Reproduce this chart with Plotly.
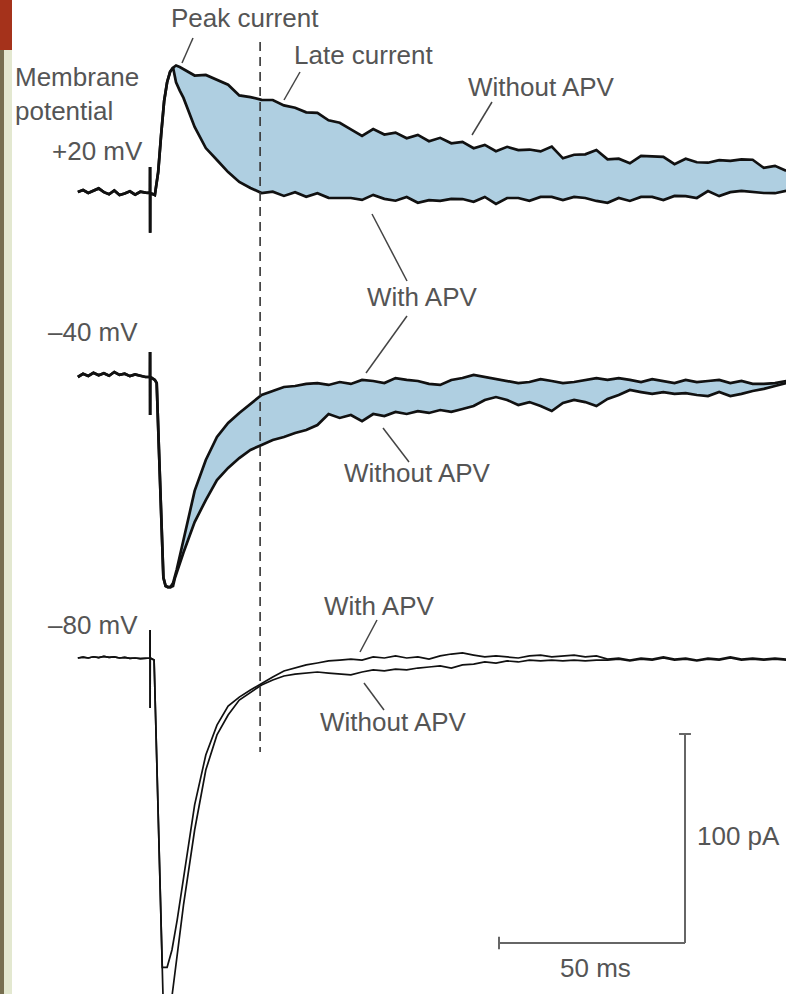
import plotly.graph_objects as go

# ---------------- data (time in ms from stimulus, current in pA) ----------------
PRE_T = [-19.4, -18.0, -16.6, -15.2, -13.8, -12.4, -11.0, -9.6, -8.2, -6.8, -5.4, -4.0, -2.6, -1.2, -0.3]
ART_T = [0.0, 0.02, 0.04, 0.06]
LATE_T = [9, 12, 15, 18, 21, 24, 27, 30, 33, 36, 39, 42, 45, 48, 51, 54, 57, 60, 63, 66,
          69, 72, 75, 78, 81, 84, 87, 90, 93, 96, 99, 102, 105, 108, 111, 114, 117, 120, 123,
          126, 129, 132, 135, 138, 141, 144, 147, 150, 153, 156, 159, 162, 165, 168, 171]

# +20 mV
P20_PRE = [0.5, 1.4, 0.0, 1.0, 2.2, 0.4, -0.6, 1.2, -1.0, -0.2, 0.8, -0.8, 0.6, 0.2, 0.0]
P20_ART = [0.0, 12.4, -19.0, 0.0]
P20_RISE_T = [1.3, 2.2, 3.0, 3.8, 4.6, 5.4, 6.2]
P20_RISE = [-1.0, 10.0, 28.0, 44.0, 53.0, 58.0, 60.0]
P20_EARLY_T = [7.0, 8.0]
P20_NO_APV_EARLY = [61.0, 60.3]
P20_WITH_APV_EARLY = [53.0, 49.0]
P20_NO_APV_LATE = [59.3, 56.2, 56.5, 54.2, 51.8, 46.7, 45.9, 44.6, 44.5, 41.9, 40.8, 38.6, 38.3,
                   34.8, 33.6, 30.4, 27.3, 30.6, 28.0, 28.9, 26.2, 27.8, 24.8, 26.4, 23.8, 24.5,
                   21.4, 23.0, 20.0, 22.1, 20.5, 20.8, 19.9, 22.2, 16.6, 18.3, 18.5, 20.6, 16.1,
                   16.4, 14.2, 17.8, 17.6, 17.3, 13.8, 16.4, 14.7, 14.5, 15.7, 15.4, 16.1, 15.9,
                   12.0, 13.0, 10.6]
P20_WITH_APV_LATE = [45.5, 31.6, 21.5, 15.8, 10.0, 5.3, 2.4, 0.0, 0.6, -1.4, 0.4, -1.8, -0.1,
                     -2.3, -2.5, -2.4, -3.3, -0.9, -2.8, -3.7, -1.9, -4.7, -3.4, -3.8, -2.8, -2.9,
                     -4.2, -1.9, -5.2, -2.4, -2.4, -3.7, -1.9, -1.9, -3.4, -1.9, -2.4, -3.8, -4.7,
                     -2.4, -3.8, -1.9, -1.9, -3.4, -1.4, -1.5, -2.4, 0.9, -1.5, 0.4, 1.0, 0.4,
                     0.0, -0.1, 1.0]

# -40 mV
M40_PRE = [0.0, 1.5, 0.5, 2.0, 0.8, 1.8, 0.6, 2.4, 1.0, 1.6, 0.4, 1.2, 0.6, 0.0, 0.0]
M40_ART = [0.0, 12.0, -18.2, 0.0]
M40_DROP_T = [1.3, 1.8, 2.4, 3.0, 3.6, 4.2]
M40_DROP = [-1.4, -2.9, -34.6, -66.3, -96.0, -100.0]
M40_WITH_APV_EARLY_T = [4.8, 5.5, 6.2, 7.2, 8.1]
M40_WITH_APV_EARLY = [-100.5, -100.5, -98.6, -92.0, -84.2]
M40_NO_APV_EARLY_T = [4.8, 5.5, 6.2, 6.7, 7.6, 8.3]
M40_NO_APV_EARLY = [-100.5, -100.5, -100.0, -96.2, -91.0, -87.5]
M40_WITH_APV_LATE = [-78.0, -54.5, -39.7, -28.7, -22.0, -17.2, -12.9, -8.6, -6.7, -4.8, -4.3,
                     -3.3, -2.9, -3.8, -2.4, -3.3, -1.4, -1.9, -2.9, -0.5, -1.4, -1.9, -3.3, -3.8,
                     -1.4, -0.5, 1.0, 0.0, -1.0, -1.9, -2.9, -2.4, -1.0, -1.9, -2.9, -2.4, -1.4,
                     -0.5, -1.4, -0.5, -1.4, -2.4, -1.0, -1.9, -2.9, -1.4, -2.4, -1.9, -1.4, -2.9,
                     -1.9, -3.3, -3.3, -2.9, -1.9]
M40_NO_APV_LATE = [-84.0, -69.4, -58.9, -49.3, -43.5, -38.8, -34.9, -32.5, -30.1, -28.7, -26.8,
                   -25.4, -23.0, -17.7, -19.6, -18.2, -21.1, -17.7, -18.7, -16.7, -17.7, -16.3,
                   -17.2, -15.8, -16.7, -15.3, -13.9, -11.0, -9.6, -11.0, -13.4, -12.0, -13.9,
                   -16.3, -12.4, -11.0, -12.0, -13.9, -10.5, -8.6, -6.2, -7.2, -8.1, -7.2, -8.1,
                   -7.7, -8.6, -9.1, -7.2, -9.1, -8.1, -6.7, -5.7, -4.3, -2.9]

# -80 mV
M80_PRE = [0.0, 0.4, 0.0, 0.6, 0.2, 0.8, 0.3, 0.5, 0.0, 0.3, -0.2, 0.0, -0.3, 0.0, 0.0]
M80_ART = [0.0, 13.4, -23.9, 0.0]
M80_WITH_APV_EARLY_T = [1.1, 3.3, 4.6, 5.9, 7.3]
M80_WITH_APV_EARLY = [-1.0, -148.0, -148.0, -139.7, -125.4]
M80_NO_APV_EARLY_T = [1.1, 3.5, 5.9, 8.1]
M80_NO_APV_EARLY = [-1.0, -162.0, -162.0, -131.6]
M80_WITH_APV_LATE = [-104.6, -70.3, -46.4, -32.1, -23.0, -18.7, -15.3, -12.0, -9.1, -6.2, -4.8,
                     -3.3, -2.4, -1.4, -1.0, -0.5, -1.0, 0.5, 0.0, 1.0, 0.0, 0.5, -0.5, 1.0, 1.9,
                     2.4, 1.4, 0.5, 1.0, 0.5, 0.0, 1.0, 1.4, 0.5, 1.0, 1.4, 0.5, 1.0, -0.5, 0.0,
                     -1.0, 0.0, -0.5, 0.5, -0.5, 0.0, -1.0, 0.0, -0.5, 0.5, -0.5, 0.0, -0.5, 0.0,
                     -0.5]
M80_NO_APV_LATE = [-118.2, -82.3, -53.6, -36.8, -27.3, -20.1, -16.3, -12.9, -10.5, -8.6, -7.7,
                   -7.2, -6.7, -7.2, -7.7, -8.1, -6.7, -5.7, -6.2, -5.3, -5.7, -4.8, -4.3, -3.8,
                   -4.8, -3.3, -2.9, -1.9, -2.4, -1.4, -1.9, -1.0, -1.4, -1.0, -1.4, -1.0, -1.4,
                   -1.0, -1.0, -0.5, -1.4, -0.5, -1.0, 0.0, -1.0, -0.5, -1.4, -0.5, -1.0, 0.0,
                   -1.0, -0.5, -1.0, -0.5, -1.0]

LATE_CURRENT_T = 29.6      # ms, dashed line
SCALE_MS = 50
SCALE_PA = 100

# ---------------- layout constants ----------------
W, H = 786, 994
PX_PER_MS = 3.72
PX_PER_PA = 2.09
STIM_PX = 150
BASE_PX = {"p20": 193, "m40": 377, "m80": 658}
OFFSET = {k: -v / PX_PER_PA for k, v in BASE_PX.items()}

FILL = "#afcfe1"
TXT = "#555555"
FONT = "Liberation Sans, Arial, sans-serif"


def build(*segments):
    t, v = [], []
    for ts, vs in segments:
        assert len(ts) == len(vs), (len(ts), len(vs))
        t += list(ts)
        v += list(vs)
    return t, v


def shift(vals, key):
    return [x + OFFSET[key] for x in vals]


traces = {}
traces["p20_no"] = build((PRE_T, P20_PRE), (ART_T, P20_ART), (P20_RISE_T, P20_RISE),
                         (P20_EARLY_T, P20_NO_APV_EARLY), (LATE_T, P20_NO_APV_LATE))
traces["p20_with"] = build((PRE_T, P20_PRE), (ART_T, P20_ART), (P20_RISE_T, P20_RISE),
                           (P20_EARLY_T, P20_WITH_APV_EARLY), (LATE_T, P20_WITH_APV_LATE))
traces["m40_no"] = build((PRE_T, M40_PRE), (ART_T, M40_ART), (M40_DROP_T, M40_DROP),
                         (M40_NO_APV_EARLY_T, M40_NO_APV_EARLY), (LATE_T, M40_NO_APV_LATE))
traces["m40_with"] = build((PRE_T, M40_PRE), (ART_T, M40_ART), (M40_DROP_T, M40_DROP),
                           (M40_WITH_APV_EARLY_T, M40_WITH_APV_EARLY), (LATE_T, M40_WITH_APV_LATE))
traces["m80_no"] = build((PRE_T, M80_PRE), (ART_T, M80_ART),
                         (M80_NO_APV_EARLY_T, M80_NO_APV_EARLY), (LATE_T, M80_NO_APV_LATE))
traces["m80_with"] = build((PRE_T, M80_PRE), (ART_T, M80_ART),
                           (M80_WITH_APV_EARLY_T, M80_WITH_APV_EARLY), (LATE_T, M80_WITH_APV_LATE))

fig = go.Figure()

# shaded NMDA component
for key in ["p20", "m40"]:
    tn, vn = traces[key + "_no"]
    tw, vw = traces[key + "_with"]
    fig.add_trace(go.Scatter(x=tn + tw[::-1], y=shift(vn + vw[::-1], key), mode="lines",
                             fill="toself", fillcolor=FILL, line=dict(width=0),
                             hoverinfo="skip", showlegend=False))

for name, (t, v) in traces.items():
    key = name[:3]
    width = 1.7 if key == "m80" else 2.7
    fig.add_trace(go.Scatter(x=t, y=shift(v, key), mode="lines",
                             line=dict(color="#111111", width=width),
                             showlegend=False, name=name))


def px(x):
    return x / W


def py(y):
    return 1 - y / H


shapes = []
# left slide decoration
shapes.append(dict(type="rect", xref="paper", yref="paper", x0=0, x1=px(12), y0=py(0), y1=py(50),
                   fillcolor="#a5321b", line=dict(width=0), layer="below"))
shapes.append(dict(type="rect", xref="paper", yref="paper", x0=0, x1=px(4), y0=py(50), y1=0,
                   fillcolor="#776f50", line=dict(width=0), layer="below"))
shapes.append(dict(type="rect", xref="paper", yref="paper", x0=px(4), x1=px(12), y0=py(50), y1=0,
                   fillcolor="#e3e8d0", line=dict(width=0), layer="below"))

# dashed late-current marker
shapes.append(dict(type="line", xref="x", yref="y", x0=LATE_CURRENT_T, x1=LATE_CURRENT_T,
                   y0=-42 / PX_PER_PA, y1=-752 / PX_PER_PA,
                   line=dict(color="#333333", width=1.6, dash="9px,6px")))

# scale bars
sb_t0 = (499 - STIM_PX) / PX_PER_MS
sb_y0 = -943 / PX_PER_PA
sb_col = "#666666"
shapes.append(dict(type="line", xref="x", yref="y", x0=sb_t0, x1=sb_t0 + SCALE_MS, y0=sb_y0, y1=sb_y0,
                   line=dict(color=sb_col, width=2)))
shapes.append(dict(type="line", xref="x", yref="y", x0=sb_t0 + SCALE_MS, x1=sb_t0 + SCALE_MS,
                   y0=sb_y0, y1=sb_y0 + SCALE_PA, line=dict(color=sb_col, width=2)))
shapes.append(dict(type="line", xref="x", yref="y", x0=sb_t0 + SCALE_MS - 1.6, x1=sb_t0 + SCALE_MS + 1.6,
                   y0=sb_y0 + SCALE_PA, y1=sb_y0 + SCALE_PA, line=dict(color=sb_col, width=2)))
shapes.append(dict(type="line", xref="x", yref="y", x0=sb_t0, x1=sb_t0,
                   y0=sb_y0 - 3, y1=sb_y0 + 3, line=dict(color=sb_col, width=2)))

# leader lines (pixel coords)
LEADERS = [((193, 38), (182, 63)), ((300, 72), (284, 100)), ((492, 102), (472, 135)),
           ((372, 214), (407, 281)), ((407, 316), (366, 373)), ((383, 428), (409, 462)),
           ((377, 620), (360, 652)), ((364, 683), (384, 710))]
for (x0, y0), (x1, y1) in LEADERS:
    shapes.append(dict(type="line", xref="paper", yref="paper", x0=px(x0), y0=py(y0),
                       x1=px(x1), y1=py(y1), line=dict(color="#444444", width=1.5)))

LABELS = [("Peak current", 245, 18, "center"), ("Late current", 364, 55, "center"),
          ("Without APV", 541, 87, "center"), ("Membrane<br>potential", 13, 94, "left"),
          ("+20 mV", 145, 151, "right"),
          ("With APV", 422, 297, "center"), ("–40 mV", 140, 332, "right"),
          ("Without APV", 417, 473, "center"), ("–80 mV", 140, 625, "right"),
          ("With APV", 379, 606, "center"), ("Without APV", 393, 722, "center"),
          ("100 pA", 695, 836, "left"), ("50 ms", 595, 968, "center")]
annotations = []
for text, x, y, anchor in LABELS:
    annotations.append(dict(text=text, x=px(x), y=py(y), xref="paper", yref="paper",
                            xanchor=anchor, yanchor="middle", align="left", showarrow=False,
                            font=dict(family=FONT, size=26, color=TXT)))

fig.update_layout(
    width=W, height=H, margin=dict(l=0, r=0, t=0, b=0),
    paper_bgcolor="white", plot_bgcolor="white",
    xaxis=dict(range=[-STIM_PX / PX_PER_MS, (W - STIM_PX) / PX_PER_MS], visible=False, fixedrange=True),
    yaxis=dict(range=[-H / PX_PER_PA, 0], visible=False, fixedrange=True),
    shapes=shapes, annotations=annotations,
)

fig.write_html("out.html", config={"displayModeBar": False},
               post_script="document.body.style.margin='0px';document.body.style.overflow='hidden';")
